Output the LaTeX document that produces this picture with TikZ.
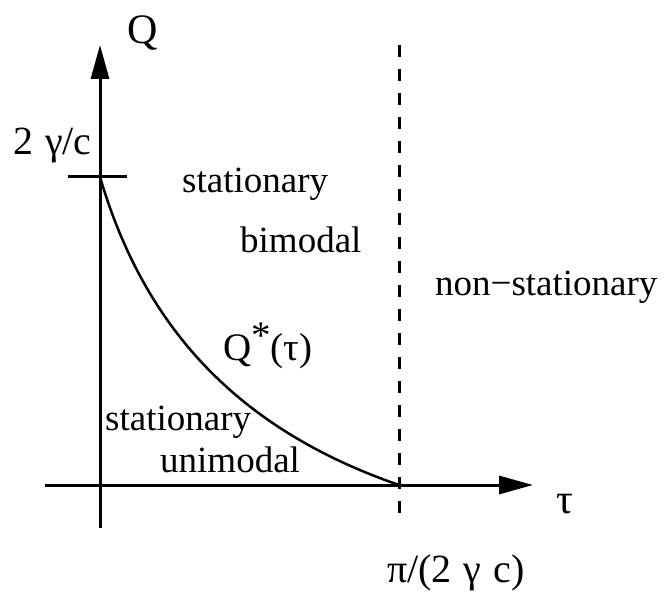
\documentclass[tikz,border=0pt]{standalone}
\usepackage{fontspec}
\setmainfont{Liberation Serif}
\newfontfamily\timesfont{Liberation Serif}
\usetikzlibrary{arrows.meta}

\begin{document}
\begin{tikzpicture}[
 x=1pt,y=-1pt,
 axis/.style={line width=3pt,-{Triangle[length=34pt,width=18pt]}},
 thin line/.style={line width=3pt},
 lbl/.style={inner sep=0pt,anchor=base west,font=\timesfont\fontsize{37}{44}\selectfont},
]
\useasboundingbox (0,0) rectangle (665,599);
% axes
\coordinate (xleft) at (45,485);
\coordinate (xright) at (533,485);
\coordinate (ybot) at (100,528);
\coordinate (ytop) at (100,45);
\draw[axis] (xleft) -- (xright);
\draw[axis] (ybot) -- (ytop);
% tick at the top value
\coordinate (tickl) at (68,177);
\coordinate (tickr) at (127,177);
\coordinate (qmax) at (100,177);
\draw[thin line] (tickl) -- (tickr);
% stability limit
\coordinate (taumax) at (399,485);
\coordinate (dtop) at (399,45);
\coordinate (dbot) at (399,515);
\draw[line width=3pt,dash pattern=on 12pt off 12pt] (dtop) -- (dbot);
% critical curve
\draw[line width=2.5pt] (qmax) .. controls (145,330) and (240,430) .. (taumax);
% labels
\node[lbl,font=\timesfont\fontsize{42}{48}\selectfont] (qlabel) at (127,44) {Q};
\node[lbl,font=\timesfont\fontsize{40}{48}\selectfont] (qmaxlabel) at (13,155) {2\hspace{0.3em}γ/c};
\node[lbl] (statbi) at (182,193) {stationary};
\node[lbl] (bimodal) at (240,253) {bimodal};
\node[lbl] (nonstat) at (435,295) {non−stationary};
\node[lbl,font=\timesfont\fontsize{39}{46}\selectfont] (qstar) at (223,360) {Q\raisebox{0.3em}{*}(τ)};
\node[lbl] (statuni) at (105,430) {stationary};
\node[lbl] (unimodal) at (160,472) {unimodal};
\node[lbl,font=\timesfont\fontsize{42}{48}\selectfont] (taulabel) at (556,513) {τ};
\node[lbl,font=\timesfont\fontsize{40}{48}\selectfont] (taumaxlabel) at (387,582) {π/(2\hspace{0.3em}γ\hspace{0.3em}c)};
\end{tikzpicture}
\end{document}
